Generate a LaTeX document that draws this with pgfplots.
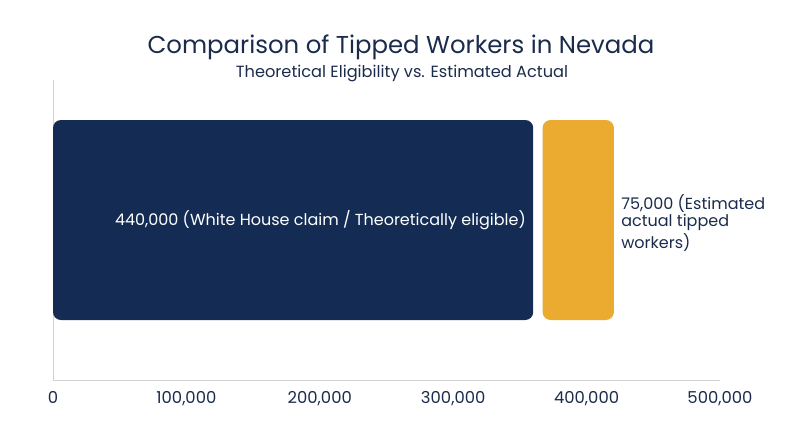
\documentclass[border=0pt]{standalone}
\usepackage{pgfplots}
\pgfplotsset{compat=1.18}
\usepackage{fontspec}
\setmainfont{Poppins}
\definecolor{navy}{HTML}{142C54}
\definecolor{gold}{HTML}{EBAA30}
\definecolor{txt}{HTML}{1A2B4C}
\begin{document}
\begin{tikzpicture}
\path[use as bounding box] (0,0) rectangle (400pt,223.5pt);
\node[text=txt, font=\fontsize{12.2}{14}\selectfont, inner sep=0] at (200.5pt,199.8pt) {Comparison of Tipped Workers in Nevada};
\node[text=txt, font=\fontsize{8.1}{9.5}\selectfont, inner sep=0] at (201pt,186.5pt) {Theoretical Eligibility vs. Estimated Actual};
\begin{axis}[
 at={(26.5pt,33.5pt)}, anchor=south west,
 scale only axis, width=333.5pt, height=150pt,
 xmin=0, xmax=500000, ymin=0, ymax=300,
 axis lines=left, axis line style={draw=black!18, -},
 ytick=\empty, xtick={0,100000,200000,300000,400000,500000},
 xticklabels={0,{100,000},{200,000},{300,000},{400,000},{500,000}},
 major tick length=0pt,
 scaled x ticks=false,
 xticklabel style={font=\fontsize{8.2}{9.5}\selectfont, text=txt, yshift=-2pt},
 clip=false,
]
\addplot[draw=none, fill=navy, rounded corners=4pt] coordinates {(0,60) (0,260) (360000,260) (360000,60)} -- cycle;
\addplot[draw=none, fill=gold, rounded corners=4pt] coordinates {(367000,60) (367000,260) (420500,260) (420500,60)} -- cycle;
\node[anchor=east, inner sep=0, xshift=-3.5pt, text=white, font=\fontsize{8}{9.5}\selectfont] at (axis cs:360000,160) {440,000 (White House claim / Theoretically eligible)};
\node[anchor=west, inner sep=0, xshift=3.5pt, text=txt, align=left, font=\fontsize{8}{8.5}\selectfont] at (axis cs:420500,157) {75,000 (Estimated\\actual tipped\\workers)};
\end{axis}
\end{tikzpicture}
\end{document}
